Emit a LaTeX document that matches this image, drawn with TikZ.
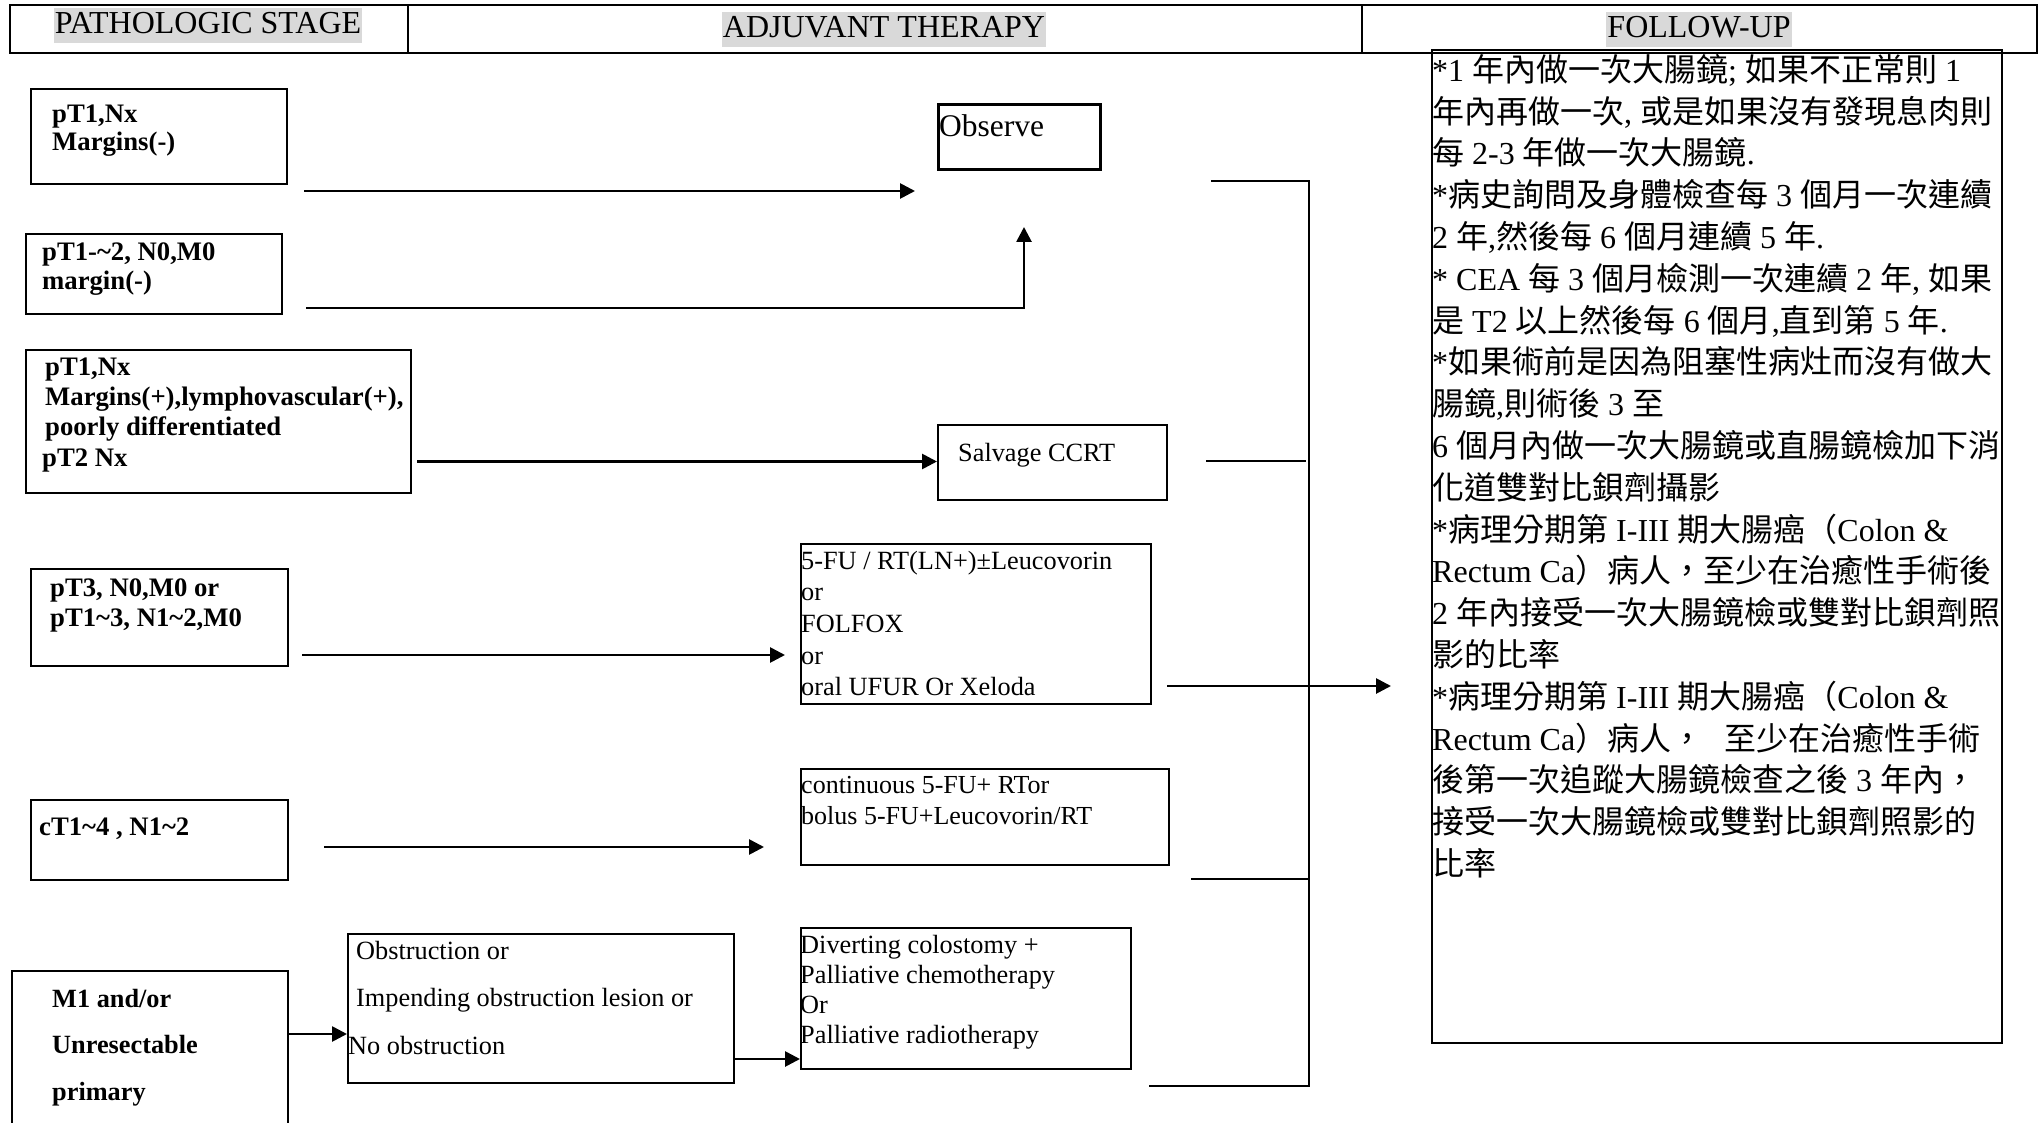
\documentclass[tikz,border=0pt]{standalone}
\usepackage{fontspec}
\setmainfont{Liberation Serif}
\newfontfamily\zhfont{Noto Sans CJK TC}
\usetikzlibrary{arrows.meta}
\newcommand{\zh}[1]{{\zhfont #1}}
\newcommand{\myfs}[2]{\fontsize{#1}{#2}\selectfont}
\begin{document}
\begin{tikzpicture}[x=1pt,y=-1pt,
  box/.style={draw, line width=1.8pt, inner sep=0pt, anchor=north west},
  txt/.style={inner sep=0pt, anchor=north west, align=left},
  one/.style={inner sep=0pt, anchor=base west},
  lb/.style={font=\bfseries\myfs{26.7}{#1}},
  rg/.style={font=\myfs{26.3}{#1}},
  arr/.style={line width=2.7pt, -{Triangle[length=15pt,width=15pt]}},
  brk/.style={line width=2.4pt},
  hdr/.style={fill=black!15, inner xsep=1pt, inner ysep=0pt, text height=26pt, text depth=9pt, anchor=base, font=\myfs{32}{36}}
]
\fill[white] (0,0) rectangle (2040,1123);
\useasboundingbox (0,0) rectangle (2040,1123);

% header
\draw[line width=2.8pt] (10,5) rectangle (2037,53);
\draw[line width=2.8pt] (408,5) -- (408,53);
\draw[line width=2.8pt] (1362,5) -- (1362,53);
\node[hdr] (h1) at (208,34) {PATHOLOGIC STAGE};
\node[hdr] (h2) at (884,38) {ADJUVANT THERAPY};
\node[hdr] (h3) at (1699,38) {FOLLOW-UP};

% left column
\node[box, minimum width=256pt, minimum height=95pt] (p1) at (30,88) {};
\node[txt, lb=28] (p1t) at (52,103) {\strut pT1,Nx\\Margins(-)};
\node[box, minimum width=256pt, minimum height=80pt] (p2) at (25,233) {};
\node[txt, lb=29.5] (p2t) at (42,239.4) {\strut pT1-\textasciitilde2, N0,M0\\margin(-)};
\node[box, minimum width=385pt, minimum height=143pt] (p3) at (25,349) {};
\node[txt, lb=30.3] (p3t) at (45,353.8) {\strut pT1,Nx\\Margins(+),lymphovascular(+),\\poorly differentiated\\\hspace*{-3pt}pT2 Nx};
\node[box, minimum width=257pt, minimum height=97pt] (p4) at (30,568) {};
\node[txt, lb=30] (p4t) at (50,575) {\strut pT3, N0,M0 or\\pT1\textasciitilde3, N1\textasciitilde2,M0};
\node[box, minimum width=257pt, minimum height=80pt] (p5) at (30,799) {};
\node[one, lb=30] (p5t) at (39,835) {cT1\textasciitilde4 , N1\textasciitilde2};
\node[box, minimum width=276pt, minimum height=170pt] (p6) at (11,970) {};
\node[txt, font=\bfseries\myfs{26.3}{46.5}] (p6t) at (52,974.5) {\strut M1 and/or\\Unresectable\\primary};

% middle column
\node[box, line width=3pt, minimum width=162pt, minimum height=65pt] (obs) at (937,103) {};
\node[one, font=\myfs{31.5}{36}] (obst) at (939,137) {Observe};
\node[box, minimum width=229pt, minimum height=75pt] (salv) at (937,424) {};
\node[one, rg=30] (salvt) at (958,461) {Salvage CCRT};
\node[box, minimum width=350pt, minimum height=160pt] (fu) at (800,543) {};
\node[txt, rg=31.7] (fut) at (801,546.8) {\strut 5-FU / RT(LN+)±Leucovorin\\or\\FOLFOX\\or\\oral UFUR Or Xeloda};
\node[box, minimum width=368pt, minimum height=96pt] (cont) at (800,768) {};
\node[txt, font=\myfs{26}{31}] (contt) at (801,771.3) {\strut continuous 5-FU+ RTor\\bolus 5-FU+Leucovorin/RT};
\node[box, minimum width=386pt, minimum height=149pt] (ob) at (347,933) {};
\node[txt, rg=47.5] (obt) at (356,925.75) {\strut Obstruction or\\Impending obstruction lesion or\\\hspace*{-8pt}No obstruction};
\node[box, minimum width=330pt, minimum height=141pt] (dv) at (800,927) {};
\node[txt, rg=30] (dvt) at (800,932) {\strut Diverting colostomy +\\Palliative chemotherapy\\Or\\Palliative radiotherapy};

% follow-up
\node[box, line width=1.8pt, minimum width=570pt, minimum height=993pt] (fw) at (1431,49) {};
\node[txt, font=\myfs{32}{41.8}] (fwt) at (1432,51.74) {\strut *1 \zh{年內做一次大腸鏡}; \zh{如果不正常則} 1\\
\zh{年內再做一次}, \zh{或是如果沒有發現息肉則}\\
\zh{每} 2-3 \zh{年做一次大腸鏡}.\\
*\zh{病史詢問及身體檢查每} 3 \zh{個月一次連續}\\
2 \zh{年},\zh{然後每} 6 \zh{個月連續} 5 \zh{年}.\\
* CEA \zh{每} 3 \zh{個月檢測一次連續} 2 \zh{年}, \zh{如果}\\
\zh{是} T2 \zh{以上然後每} 6 \zh{個月},\zh{直到第} 5 \zh{年}.\\
*\zh{如果術前是因為阻塞性病灶而沒有做大}\\
\zh{腸鏡},\zh{則術後} 3 \zh{至}\\
6 \zh{個月內做一次大腸鏡或直腸鏡檢加下消}\\
\zh{化道雙對比鋇劑攝影}\\
*\zh{病理分期第} I-III \zh{期大腸癌（}Colon \&\\
Rectum Ca\zh{）病人，至少在治癒性手術後}\\
2 \zh{年內接受一次大腸鏡檢或雙對比鋇劑照}\\
\zh{影的比率}\\
*\zh{病理分期第} I-III \zh{期大腸癌（}Colon \&\\
Rectum Ca\zh{）病人，}\hspace*{21pt}\zh{至少在治癒性手術}\\
\zh{後第一次追蹤大腸鏡檢查之後} 3 \zh{年內，}\\
\zh{接受一次大腸鏡檢或雙對比鋇劑照影的}\\
\zh{比率}};

% connector end points
\coordinate (c1s) at (304,191);
\coordinate (c1e) at (915,191);
\coordinate (c2s) at (306,308);
\coordinate (c2e) at (1024,227);
\coordinate (c3s) at (417,461.5);
\coordinate (c4s) at (302,655);
\coordinate (c4e) at (785,655);
\coordinate (c5s) at (324,847);
\coordinate (c5e) at (764,847);
\coordinate (c6) at (287,1034);
\coordinate (c7) at (733,1059);
\coordinate (c8s) at (1167,686);
\coordinate (c8e) at (1391,686);
\coordinate (b1) at (1211,181);
\coordinate (b2) at (1309,181);
\coordinate (b3) at (1309,1086);
\coordinate (b4) at (1149,1086);
\coordinate (b5) at (1206,461);
\coordinate (b6) at (1306,461);
\coordinate (b7) at (1191,879);
\coordinate (b8) at (1309,879);

% arrows
\draw[arr] (c1s) -- (c1e);
\draw[arr] (c2s) -| (c2e);
\draw[arr] (c3s) -- (c3s -| salv.west);
\draw[arr] (c4s) -- (c4e);
\draw[arr] (c5s) -- (c5e);
\draw[arr] (c6) -- (c6 -| ob.west);
\draw[arr] (c7) -- (c7 -| dv.west);
\draw[arr] (c8s) -- (c8e);

% bracket
\draw[brk] (b1) -- (b2) -- (b3) -- (b4);
\draw[brk] (b5) -- (b6);
\draw[brk] (b7) -- (b8);
\end{tikzpicture}
\end{document}
